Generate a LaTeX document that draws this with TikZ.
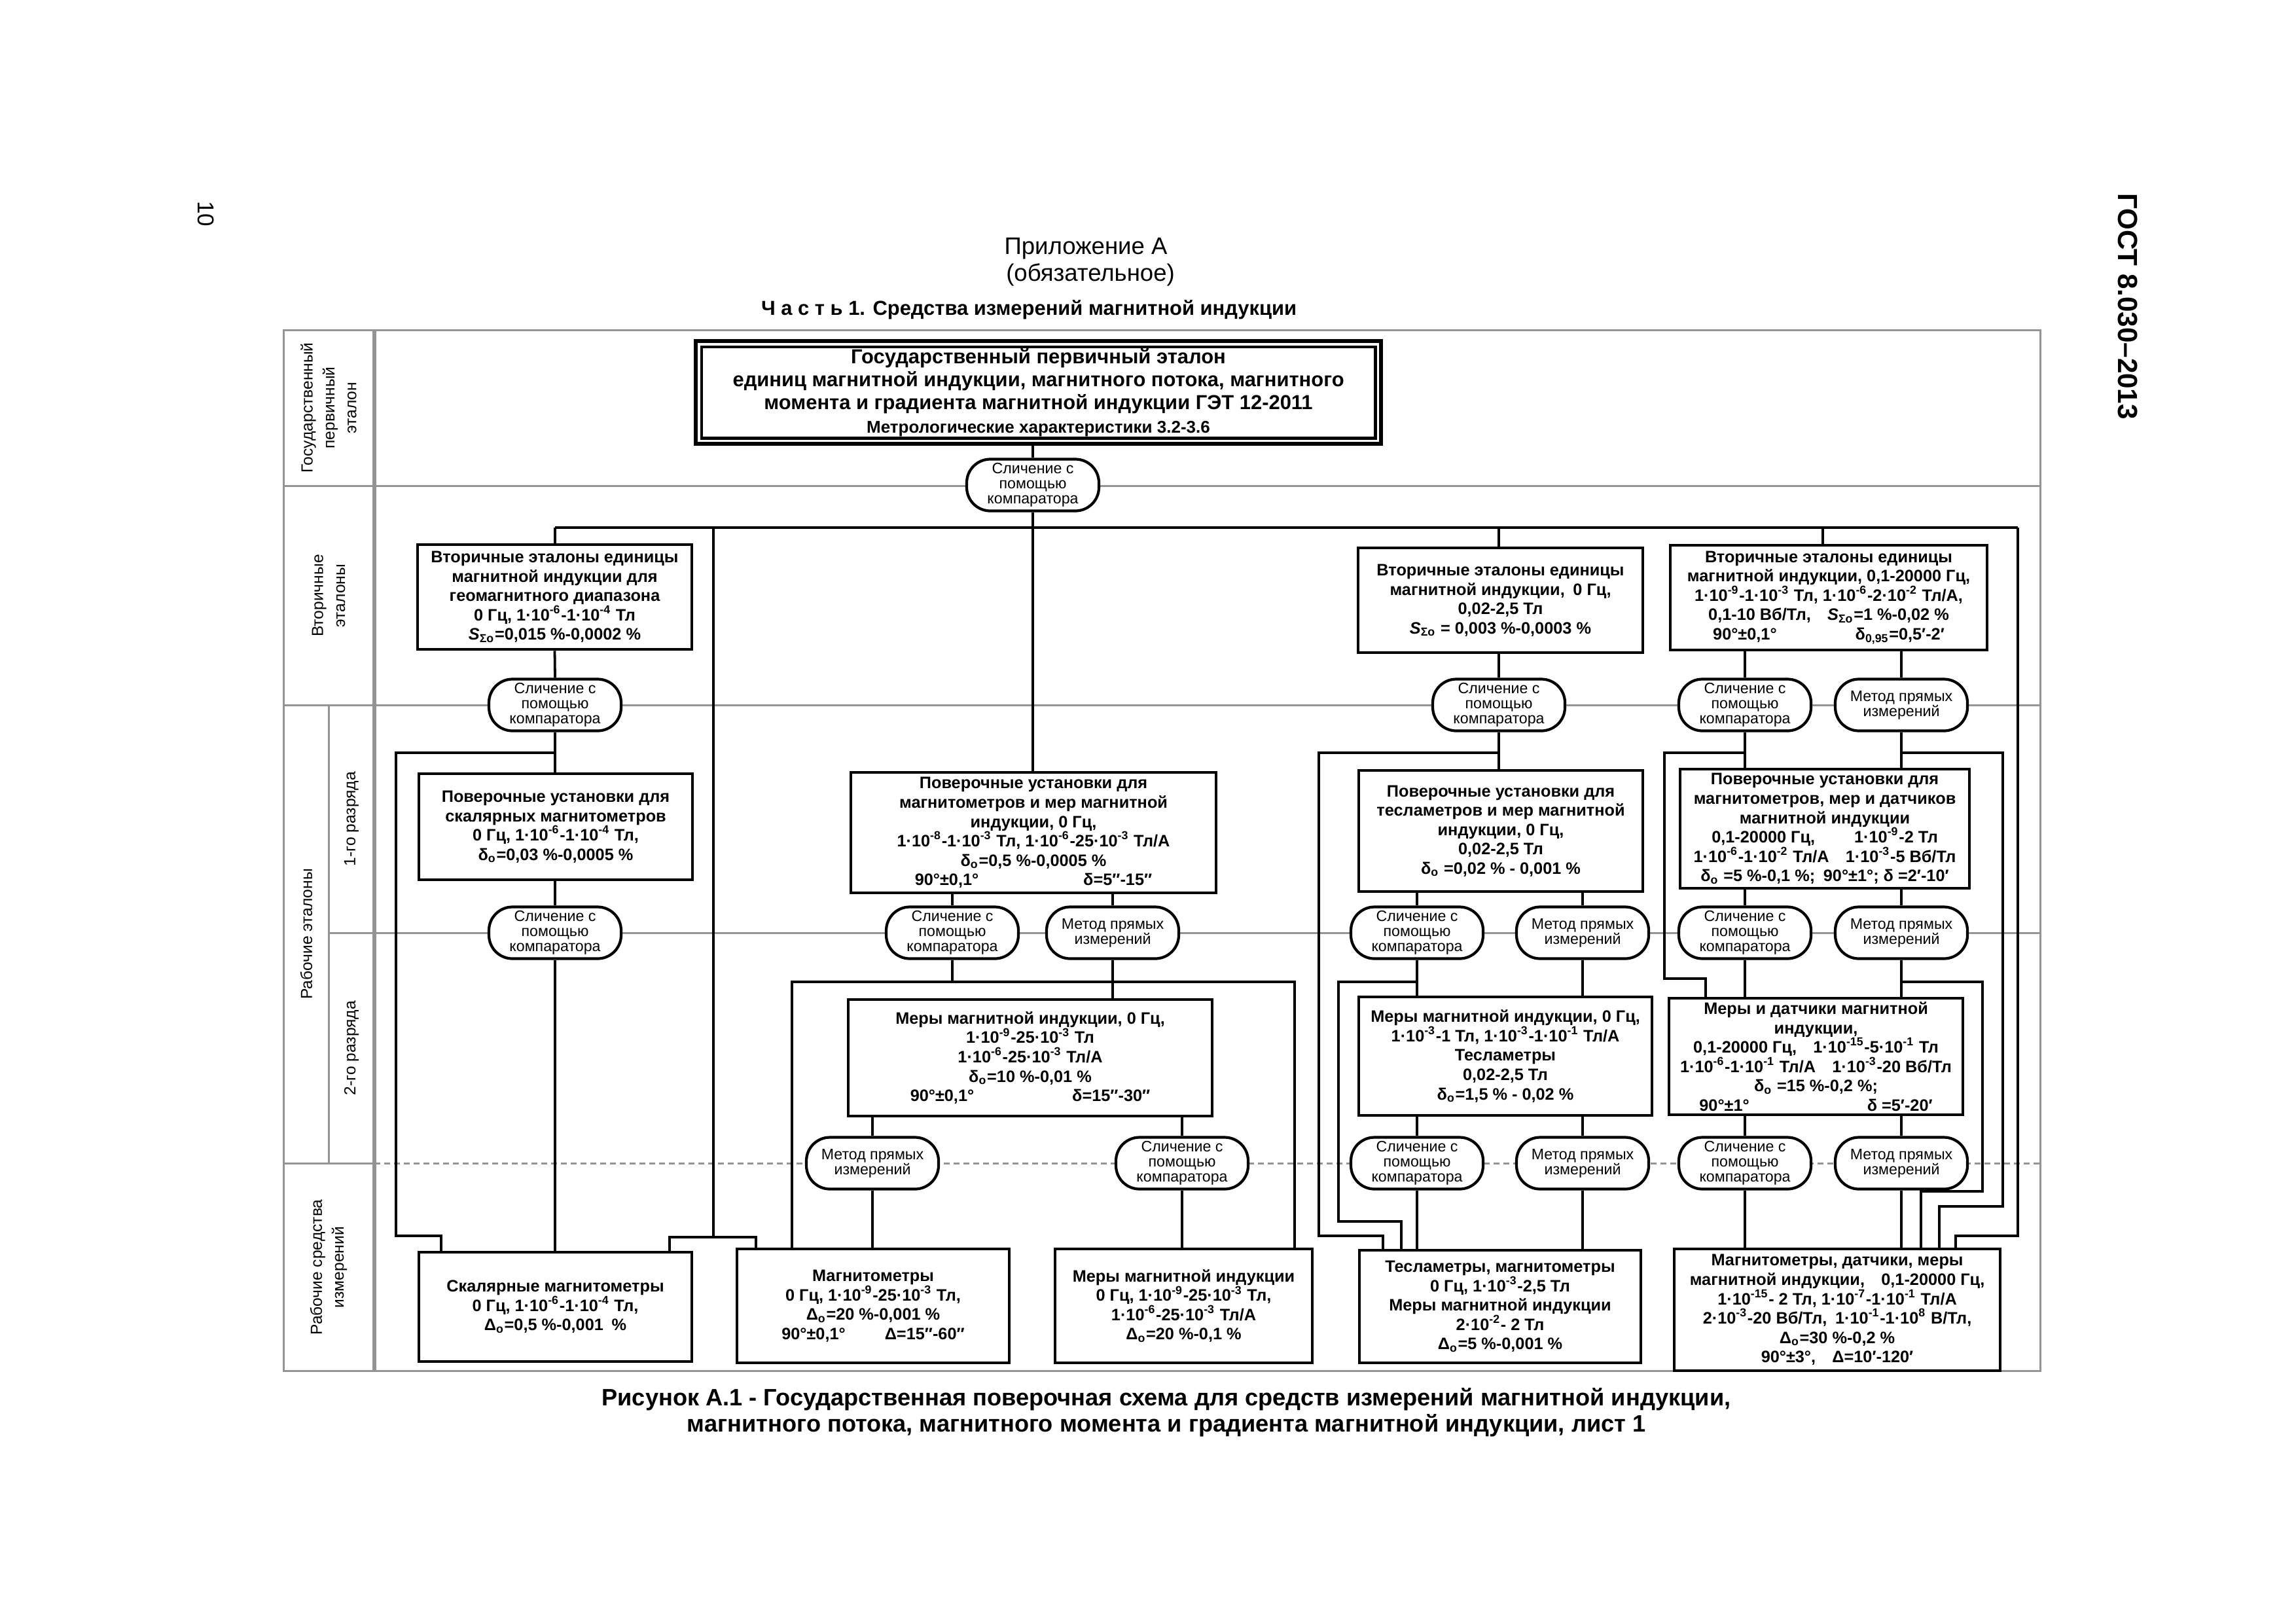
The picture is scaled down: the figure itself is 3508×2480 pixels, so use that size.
\documentclass[tikz,border=0pt]{standalone}
\usepackage{fontspec}
\setmainfont{Liberation Sans}
\usetikzlibrary{calc}
\newcommand\upx[1]{\textsuperscript{#1}}
\newcommand\dnx[1]{\textsubscript{#1}}
\newcommand\cmptext{Сличение с\\помощью\\компаратора}
\newcommand\mpitext{Метод прямых\\измерений}
\begin{document}
\begin{tikzpicture}[x=0.1mm,y=-0.1mm,
 box/.style={draw, line width=0.45mm, fill=white, align=center, inner sep=0.4mm, font=\bfseries\fontsize{7.2}{8.4}\selectfont},
 proc/.style={draw, line width=0.42mm, fill=white, rounded corners=3.6mm, align=center, minimum width=20.2mm, minimum height=7.9mm, inner sep=0.2mm, font=\fontsize{6.6}{6.5}\selectfont},
 conn/.style={line width=0.38mm},
 grd/.style={draw=black!42, line width=0.3mm},
 lab/.style={rotate=90, align=center, font=\fontsize{7}{9.5}\selectfont},
]
\fill[white] (0,0) rectangle (3508,2480);
\useasboundingbox (0,0) rectangle (3508,2480);

% ---------- grid of the table ----------
\draw[grd] (433,504) rectangle (3117,2094);
\draw[grd, line width=0.55mm] (572,504) -- (572,2094);
\draw[grd] (433,742) -- (3117,742);
\draw[grd] (433,1077) -- (3117,1077);
\draw[grd] (502,1425) -- (3117,1425);
\draw[grd] (502,1077) -- (502,1777);
\draw[grd] (433,1777) -- (572,1777);
\draw[grd, dash pattern=on 0.9mm off 0.6mm] (572,1777) -- (3117,1777);

% ---------- headers ----------
\node[font=\fontsize{10.4}{12}\selectfont] (h1) at (1659,380) {Приложение А};
\node[font=\fontsize{10.4}{12}\selectfont] (h2) at (1666,420) {(обязательное)};
\node[font=\bfseries\fontsize{8.8}{10}\selectfont] (h3) at (1572,473) {Ч а с т ь 1. Средства измерений магнитной индукции};
\node[rotate=-90, font=\fontsize{10}{12}\selectfont] (pg) at (315,327) {10};
\node[rotate=-90, font=\bfseries\fontsize{12}{14}\selectfont] (gost) at (3251,468) {ГОСТ 8.030–2013};
\node[font=\bfseries\fontsize{10.3}{11.3}\selectfont, align=center] (cap) at (1782,2158)
 {Рисунок А.1 - Государственная поверочная схема для средств измерений магнитной индукции,\\
  магнитного потока, магнитного момента и градиента магнитной индукции, лист 1};

% ---------- row labels ----------
\node[lab] (lgos) at (502,623) {Государственный\\первичный\\эталон};
\node[lab] (lvt) at (502,910) {Вторичные\\эталоны};
\node[lab] (lrab) at (468,1427) {Рабочие эталоны};
\node[lab] (l1) at (537,1251) {1-го разряда};
\node[lab] (l2) at (537,1601) {2-го разряда};
\node[lab] (lsi) at (502,1936) {Рабочие средства\\измерений};

% ---------- primary standard ----------
\node[draw, line width=0.65mm, fill=white, minimum width=104.7mm, minimum height=15.7mm, inner sep=0, align=center,
      font=\bfseries\fontsize{8.8}{10}\selectfont] (top) at (1586.5,599.5)
 {Государственный первичный эталон\\
  единиц магнитной индукции, магнитного потока, магнитного\\
  момента и градиента магнитной индукции ГЭТ 12-2011\\
  {\fontsize{7.4}{9}\selectfont Метрологические характеристики 3.2-3.6}};
\draw[line width=0.45mm] ($(top.north west)+(12,12)$) rectangle ($(top.south east)+(-12,-12)$);

% ---------- secondary standards ----------
\node[box, minimum width=41.9mm, minimum height=16mm] (SL) at (847.5,912)
 {Вторичные эталоны единицы\\магнитной индукции для\\геомагнитного диапазона\\
  0 Гц, 1·10\upx{-6}-1·10\upx{-4} Тл\\\textit{S}\dnx{Σо}=0,015 \%-0,0002 \%};
\node[box, minimum width=43.5mm, minimum height=16mm] (SM) at (2292.5,917)
 {Вторичные эталоны единицы\\магнитной индукции,\enspace 0 Гц,\\0,02-2,5 Тл\\
  \textit{S}\dnx{Σо} = 0,003 \%-0,0003 \%};
\node[box, minimum width=48.4mm, minimum height=16mm] (SR) at (2794,913)
 {Вторичные эталоны единицы\\магнитной индукции, 0,1-20000 Гц,\\
  1·10\upx{-9}-1·10\upx{-3} Тл, 1·10\upx{-6}-2·10\upx{-2} Тл/А,\\
  0,1-10 Вб/Тл,\quad \textit{S}\dnx{Σо}=1 \%-0,02 \%\\
  90°±0,1°\hspace{12mm}δ\dnx{0,95}=0,5′-2′};

% ---------- working standards, 1st rank ----------
\node[box, minimum width=41.8mm, minimum height=16.2mm] (PL) at (849,1263)
 {Поверочные установки для\\скалярных магнитометров\\0 Гц, 1·10\upx{-6}-1·10\upx{-4} Тл,\\
  δ\dnx{о}=0,03 \%-0,0005 \%};
\node[box, minimum width=55.8mm, minimum height=18.4mm] (PM) at (1579,1272)
 {Поверочные установки для\\магнитометров и мер магнитной\\индукции, 0 Гц,\\
  1·10\upx{-8}-1·10\upx{-3} Тл, 1·10\upx{-6}-25·10\upx{-3} Тл/А\\
  δ\dnx{о}=0,5 \%-0,0005 \%\\90°±0,1°\hspace{16mm}δ=5″-15″};
\node[box, minimum width=43.4mm, minimum height=18.5mm] (PT) at (2293,1269.5)
 {Поверочные установки для\\тесламетров и мер магнитной\\индукции, 0 Гц,\\0,02-2,5 Тл\\
  δ\dnx{о} =0,02 \% - 0,001 \%};
\node[box, minimum width=44.2mm, minimum height=18.2mm] (PR) at (2788,1266)
 {Поверочные установки для\\магнитометров, мер и датчиков\\магнитной индукции\\
  0,1-20000 Гц,\hspace{6mm}1·10\upx{-9}-2 Тл\\
  1·10\upx{-6}-1·10\upx{-2} Тл/А\quad 1·10\upx{-3}-5 Вб/Тл\\
  δ\dnx{о} =5 \%-0,1 \%;\enspace 90°±1°; δ =2′-10′};

% ---------- working standards, 2nd rank ----------
\node[box, minimum width=55.6mm, minimum height=17.8mm] (MM) at (1574,1616)
 {Меры магнитной индукции, 0 Гц,\\1·10\upx{-9}-25·10\upx{-3} Тл\\1·10\upx{-6}-25·10\upx{-3} Тл/А\\
  δ\dnx{о}=10 \%-0,01 \%\\90°±0,1°\hspace{15mm}δ=15″-30″};
\node[box, minimum width=44.8mm, minimum height=18.1mm] (MT) at (2300,1613.5)
 {Меры магнитной индукции, 0 Гц,\\1·10\upx{-3}-1 Тл, 1·10\upx{-3}-1·10\upx{-1} Тл/А\\Тесламетры\\
  0,02-2,5 Тл\\δ\dnx{о}=1,5 \% - 0,02 \%};
\node[box, minimum width=44.9mm, minimum height=17.8mm] (MR) at (2774.5,1614)
 {Меры и датчики магнитной\\индукции,\\0,1-20000 Гц,\quad 1·10\upx{-15}-5·10\upx{-1} Тл\\
  1·10\upx{-6}-1·10\upx{-1} Тл/А\quad 1·10\upx{-3}-20 Вб/Тл\\δ\dnx{о} =15 \%-0,2 \%;\\
  90°±1°\hspace{18mm}δ =5′-20′};

% ---------- working instruments ----------
\node[box, minimum width=41.7mm, minimum height=16.7mm] (BL) at (848.5,1996.5)
 {Скалярные магнитометры\\0 Гц, 1·10\upx{-6}-1·10\upx{-4} Тл,\\Δ\dnx{о}=0,5 \%-0,001\enspace \%};
\node[box, minimum width=41.6mm, minimum height=17.4mm] (BM1) at (1334,1995)
 {Магнитометры\\0 Гц, 1·10\upx{-9}-25·10\upx{-3} Тл,\\Δ\dnx{о}=20 \%-0,001 \%\\
  90°±0,1°\hspace{6mm}Δ=15″-60″};
\node[box, minimum width=39.3mm, minimum height=17.4mm] (BM2) at (1808.5,1995)
 {Меры магнитной индукции\\0 Гц, 1·10\upx{-9}-25·10\upx{-3} Тл,\\1·10\upx{-6}-25·10\upx{-3} Тл/А\\
  Δ\dnx{о}=20 \%-0,1 \%};
\node[box, minimum width=43mm, minimum height=17.2mm] (BT) at (2292,1996)
 {Тесламетры, магнитометры\\0 Гц, 1·10\upx{-3}-2,5 Тл\\Меры магнитной индукции\\
  2·10\upx{-2}- 2 Тл\\Δ\dnx{о}=5 \%-0,001 \%};
\node[box, minimum width=49.8mm, minimum height=18.6mm] (BR) at (2807,2001)
 {Магнитометры, датчики, меры\\магнитной индукции,\quad 0,1-20000 Гц,\\
  1·10\upx{-15}- 2 Тл, 1·10\upx{-7}-1·10\upx{-1} Тл/А\\
  2·10\upx{-3}-20 Вб/Тл,\enspace 1·10\upx{-1}-1·10\upx{8} В/Тл,\\
  Δ\dnx{о}=30 \%-0,2 \%\\90°±3°,\quad Δ=10′-120′};

% ---------- method ovals ----------
\node[proc] (C1) at (1578,741) {\cmptext};
\node[proc] (CL2) at (848,1077) {\cmptext};
\node[proc] (CM2) at (2290,1077) {\cmptext};
\node[proc] (CR2a) at (2666,1077) {\cmptext};
\node[proc] (CR2b) at (2905,1077) {\mpitext};
\node[proc] (CL3) at (848,1425) {\cmptext};
\node[proc] (CM3a) at (1455,1425) {\cmptext};
\node[proc] (CM3b) at (1700,1425) {\mpitext};
\node[proc] (CT3a) at (2165,1425) {\cmptext};
\node[proc] (CT3b) at (2418,1425) {\mpitext};
\node[proc] (CR3a) at (2666,1425) {\cmptext};
\node[proc] (CR3b) at (2905,1425) {\mpitext};
\node[proc] (CM4a) at (1333,1777) {\mpitext};
\node[proc] (CM4b) at (1806,1777) {\cmptext};
\node[proc] (CT4a) at (2165,1777) {\cmptext};
\node[proc] (CT4b) at (2418,1777) {\mpitext};
\node[proc] (CR4a) at (2666,1777) {\cmptext};
\node[proc] (CR4b) at (2905,1777) {\mpitext};

% ---------- connectors ----------
\coordinate (busL) at (848,806);
\coordinate (busR) at (3083,806);
\draw[conn] (C1.north |- top.south) -- (C1.north);
\draw[conn] (C1.south) -- (C1.south |- busL);
\draw[conn] (busL) -- (busR);
\draw[conn] (busL) -- (busL |- SL.north);
\draw[conn] (C1.south |- busL) -- (C1.south |- PM.north);
\coordinate (bSM) at (2290,806);
\draw[conn] (bSM) -- (bSM |- SM.north);
\coordinate (bSR) at (2785,806);
\draw[conn] (bSR) -- (bSR |- SR.north);
\coordinate (bL) at (1090,806);
\coordinate (bLd) at (1090,1890);
\draw[conn] (bL) -- (bLd);
\draw[conn] ($(BL.north east)+(-36,0)$) |- (bLd) -| ($(BM1.north west)+(31,0)$);
\coordinate (bRd) at (3083,1888);
\draw[conn] (busR) -- (bRd) -| ($(BR.north west)+(432,0)$);

% left column
\draw[conn] (SL.south) -- (CL2.north);
\draw[conn] (CL2.south) -- (CL2.south |- PL.north);
\coordinate (jL) at (848,1150);
\coordinate (jLd) at (605,1888);
\draw[conn] (jL) -| (jLd) -| ($(BL.north west)+(36,0)$);
\draw[conn] (CL3.north |- PL.south) -- (CL3.north);
\draw[conn] (CL3.south) -- (CL3.south |- BL.north);

% middle column
\draw[conn] (CM3a.north |- PM.south) -- (CM3a.north);
\draw[conn] (CM3b.north |- PM.south) -- (CM3b.north);
\coordinate (m1) at (1210,1500);
\coordinate (m2) at (1978,1500);
\draw[conn] (CM3a.south) -- (CM3a.south |- m1);
\draw[conn] (m1 |- BM1.north) |- (m2) -- (m2 |- BM2.north);
\draw[conn] (CM3b.south) -- (CM3b.south |- MM.north);
\draw[conn] (CM4a.north |- MM.south) -- (CM4a.north);
\draw[conn] (CM4b.north |- MM.south) -- (CM4b.north);
\draw[conn] (CM4a.south) -- (CM4a.south |- BM1.north);
\draw[conn] (CM4b.south) -- (CM4b.south |- BM2.north);

% teslameter column
\draw[conn] (CM2.north |- SM.south) -- (CM2.north);
\draw[conn] (CM2.south) -- (CM2.south |- PT.north);
\coordinate (jT) at (2290,1150);
\coordinate (jTd) at (2015,1888);
\draw[conn] (jT) -| (jTd) -| ($(BT.north west)+(38,0)$);
\draw[conn] (CT3a.north |- PT.south) -- (CT3a.north);
\draw[conn] (CT3b.north |- PT.south) -- (CT3b.north);
\draw[conn] (CT3a.south) -- (CT3a.south |- MT.north);
\coordinate (jT2) at (2165,1500);
\coordinate (jT2d) at (2045,1866);
\draw[conn] (jT2) -| (jT2d) -| ($(BT.north west)+(66,0)$);
\draw[conn] (CT3b.south) -- (CT3b.south |- MT.north);
\draw[conn] (CT4a.north |- MT.south) -- (CT4a.north);
\draw[conn] (CT4b.north |- MT.south) -- (CT4b.north);
\draw[conn] (CT4a.south) -- (CT4a.south |- BT.north);
\draw[conn] (CT4b.south) -- (CT4b.south |- BT.north);

% right column
\draw[conn] (CR2a.north |- SR.south) -- (CR2a.north);
\draw[conn] (CR2b.north |- SR.south) -- (CR2b.north);
\draw[conn] (CR2a.south) -- (CR2a.south |- PR.north);
\draw[conn] (CR2b.south) -- (CR2b.south |- PR.north);
\coordinate (jR1) at (2666,1150);
\coordinate (jR1d) at (2543,1495);
\draw[conn] (jR1) -| (jR1d) -| ($(MR.north west)+(58,0)$);
\coordinate (jR2) at (2905,1150);
\coordinate (jR2d) at (3060,1843);
\draw[conn] (jR2) -| (jR2d) -| ($(BR.north west)+(407,0)$);
\draw[conn] (CR3a.north |- PR.south) -- (CR3a.north);
\draw[conn] (CR3b.north |- PR.south) -- (CR3b.north);
\draw[conn] (CR3a.south) -- (CR3a.south |- MR.north);
\draw[conn] (CR3b.south) -- (CR3b.south |- MR.north);
\coordinate (jR3) at (2905,1500);
\coordinate (jR3d) at (3029,1820);
\draw[conn] (jR3) -| (jR3d) -| ($(BR.north west)+(379,0)$);
\draw[conn] (CR4a.north |- MR.south) -- (CR4a.north);
\draw[conn] (CR4b.north |- MR.south) -- (CR4b.north);
\draw[conn] (CR4a.south) -- (CR4a.south |- BR.north);
\draw[conn] (CR4b.south) -- (CR4b.south |- BR.north);
\end{tikzpicture}
\end{document}
